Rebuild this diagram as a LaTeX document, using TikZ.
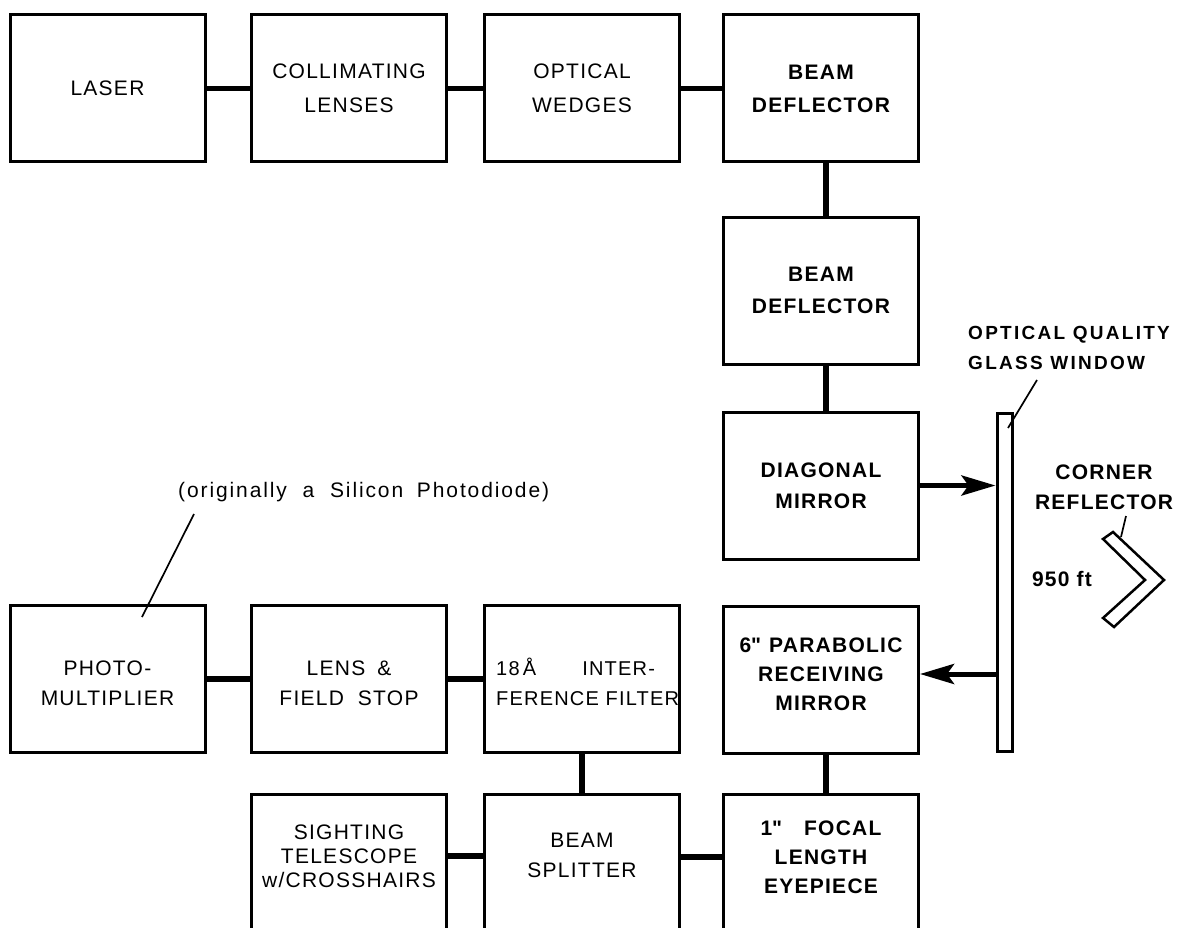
\documentclass[tikz,border=0pt]{standalone}
\usepackage{fontspec}
\setmainfont{Liberation Sans}[LetterSpace=6]
\usetikzlibrary{arrows.meta}
\newcommand\dquo{{\addfontfeatures{Ligatures=TeXOff}"}}
\tikzset{
  blk/.style={draw, line width=3pt, minimum width=195pt, minimum height=147pt, inner sep=0pt, align=center, font=\fontsize{21}{32}\selectfont},
  bblk/.style={blk, font=\fontsize{21}{32}\selectfont\bfseries},
  txt/.style={inner sep=0pt, align=center, font=\fontsize{21}{30}\selectfont},
  btxt/.style={txt, font=\fontsize{21}{30}\selectfont\bfseries},
  conn/.style={line width=5.5pt},
  arr/.style={line width=5pt, -{Stealth[length=34pt,width=20pt,inset=7pt]}},
  lead/.style={line width=1.7pt},
}
\begin{document}
\begin{tikzpicture}[x=1pt,y=-1pt]
\useasboundingbox (0,0) rectangle (1180,928);
\clip (0,0) rectangle (1180,928);
% row 1
\node[blk] (laser) at (107.5,88.5) {LASER};
\node[blk, font=\fontsize{21}{34}\selectfont] (coll) at (349,88.5) {COLLIMATING\\LENSES};
\node[blk, font=\fontsize{21}{34}\selectfont] (wedge) at (582,88.5) {OPTICAL\\WEDGES};
\node[bblk, font=\fontsize{21}{33}\selectfont\bfseries] (bd1) at (821,88.5) {BEAM\\DEFLECTOR};
% right column
\node[bblk] (bd2) at (821,290.5) {BEAM\\DEFLECTOR};
\node[bblk, font=\fontsize{21}{31}\selectfont\bfseries] (diag) at (821,485.5) {DIAGONAL\\MIRROR};
\node[blk] (para) at (821,679.5) {};
\node[btxt, font=\fontsize{21}{29}\selectfont\bfseries] (paraT) at (821,674) {6\dquo\hspace{8pt}PARABOLIC\\RECEIVING\\MIRROR};
% row 4
\node[blk] (pm) at (107.5,679) {};
\node[txt] (pmT) at (107.5,683) {PHOTO-\\MULTIPLIER};
\node[blk] (lens) at (349,679) {};
\node[txt] (lensT) at (349,683) {LENS\hspace{12pt}\&\\FIELD\hspace{14pt}STOP};
\node[blk] (filt) at (582,679) {};
\node[txt, anchor=west, align=left, font=\fontsize{20}{30}\selectfont] (filtT) at (496,682) {18\,Å\hspace{46pt}INTER-\\FERENCE FILTER};
% row 5 (cut off by the page bottom)
\node[blk, minimum height=170pt] (sight) at (349,879) {};
\node[blk, minimum height=170pt] (split) at (582,879) {};
\node[blk, minimum height=170pt] (eye) at (821,879) {};
\node[txt, font=\fontsize{21}{24}\selectfont] (sightT) at (349,856) {SIGHTING\\TELESCOPE\\w/CROSSHAIRS};
\node[txt] (splitT) at (582,855) {BEAM\\SPLITTER};
\node[btxt, font=\fontsize{21}{29}\selectfont\bfseries] (eyeT) at (821,857) {1\dquo\hspace{22pt}FOCAL\\LENGTH\\EYEPIECE};
% window
\node[draw, line width=3pt, minimum width=15pt, minimum height=338pt, inner sep=0pt] (win) at (1004.5,582) {};
% connectors
\draw[conn] (laser) -- (coll);
\draw[conn] (coll) -- (wedge);
\draw[conn] (wedge) -- (bd1);
\draw[conn] ([xshift=5pt]bd1.south) -- ([xshift=5pt]bd2.north);
\draw[conn] ([xshift=5pt]bd2.south) -- ([xshift=5pt]diag.north);
\draw[conn] (pm) -- (lens);
\draw[conn] (lens) -- (filt);
\draw[conn] (filt.south) -- (split.north);
\draw[conn] ([xshift=5pt]para.south) -- ([xshift=5pt]eye.north);
\draw[conn] (sight.east |- sightT) -- (split.west |- sightT);
\draw[conn] (split.east |- eyeT) -- (eye.west |- eyeT);
% arrows
\draw[arr] (diag.east) -- (diag.east -| win.west);
\coordinate (ret) at (para.east |- paraT);
\draw[arr] (win.west |- ret) -- (ret);
% labels
\node[btxt, anchor=west, align=left, font=\fontsize{19}{30}\selectfont\bfseries\addfontfeatures{LetterSpace=12}] (wintxt) at (968,348) {OPTICAL QUALITY\\GLASS WINDOW};
\coordinate (wl1) at (1037,380);
\coordinate (wl2) at (1008,428);
\draw[lead] (wl1) -- (wl2);
\node[btxt] (corner) at (1104,487) {CORNER\\REFLECTOR};
\coordinate (cl1) at (1126,516);
\coordinate (cl2) at (1121,537);
\draw[lead] (cl1) -- (cl2);
\node[btxt] (dist) at (1062,579) {950 ft};
\draw[line width=2.5pt, line join=miter] (1103,539) -- (1113,532) -- (1164,580) -- (1114,627) -- (1103,618) -- (1145,580) -- cycle;
\node[txt, anchor=west, font=\fontsize{21}{25}\selectfont\addfontfeatures{LetterSpace=9}] (pdl) at (178,492) {(originally\hspace{8pt} a\hspace{8pt} Silicon\hspace{6pt} Photodiode)};
\coordinate (pl1) at (194,514);
\coordinate (pl2) at (142,617);
\draw[lead] (pl1) -- (pl2);
\end{tikzpicture}
\end{document}
